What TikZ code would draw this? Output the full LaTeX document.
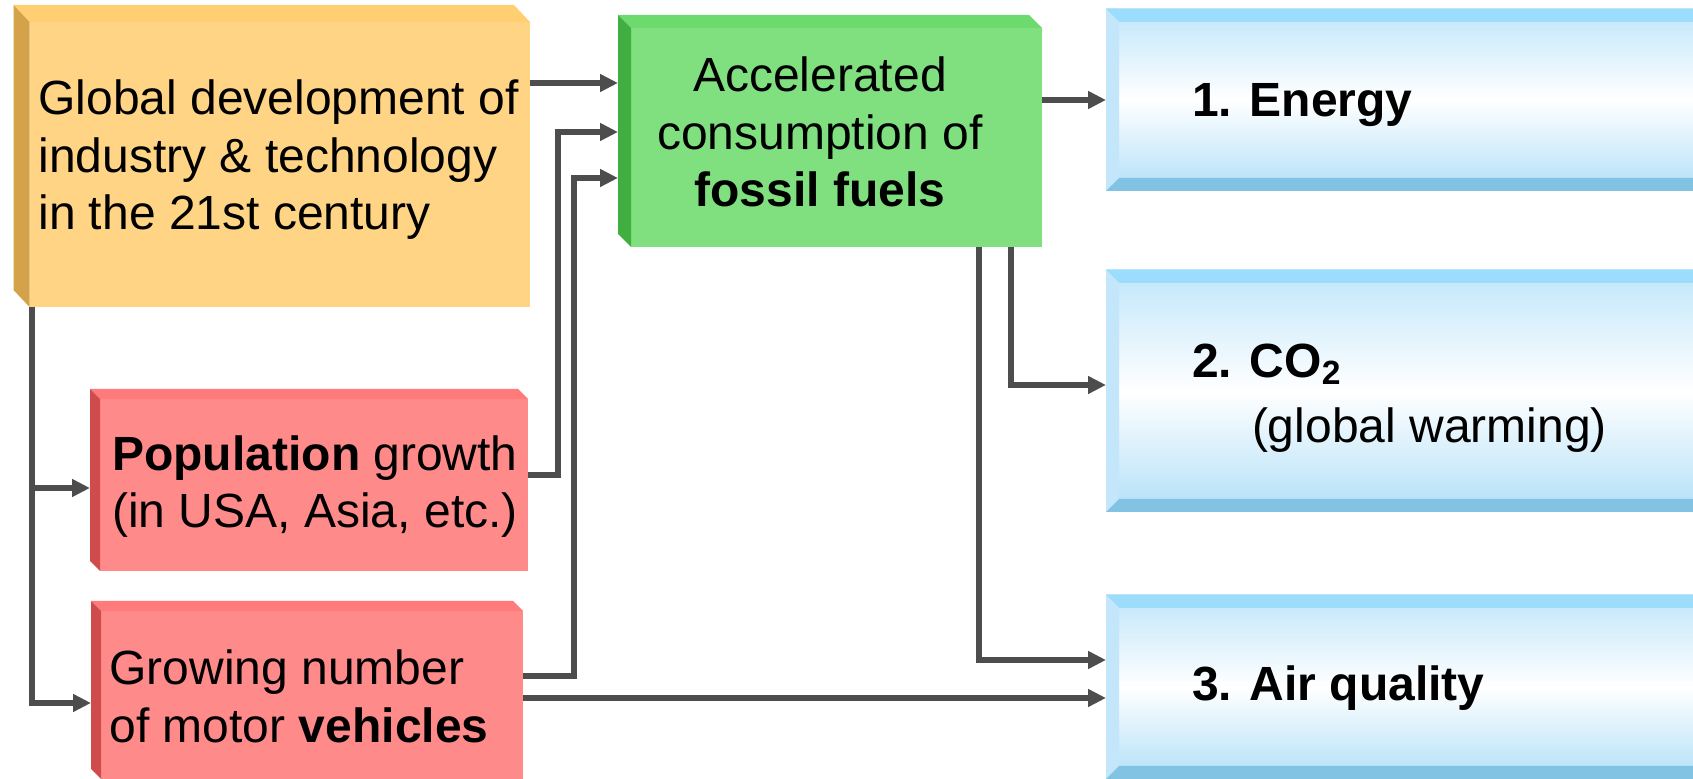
\documentclass[tikz,border=0pt]{standalone}
\usepackage{fontspec}
\setmainfont{Liberation Sans}
\usetikzlibrary{arrows.meta}
\definecolor{orangefront}{HTML}{FFD585}
\definecolor{orangetop}{HTML}{FFCF72}
\definecolor{orangeside}{HTML}{D4A248}
\definecolor{greenfront}{HTML}{80E080}
\definecolor{greentop}{HTML}{6CDA6C}
\definecolor{greenside}{HTML}{40AE40}
\definecolor{redfront}{HTML}{FF8A8A}
\definecolor{redtop}{HTML}{FF7A7A}
\definecolor{redside}{HTML}{D04C4C}
\definecolor{bluetop}{HTML}{9CDCFC}
\definecolor{blueleft}{HTML}{C4E6FA}
\definecolor{bluebottom}{HTML}{82C2E2}
\definecolor{blueright}{HTML}{8CCCEC}
\definecolor{bluehigh}{HTML}{C0E6FA}
\definecolor{bluelow}{HTML}{B2E0F8}
\definecolor{wiregray}{HTML}{4D4D4D}
\tikzset{
    every node/.style={
        text=black,
        inner sep=0pt,
        outer sep=0pt
    },
    every path/.style={
        thick
    }
}
\tikzstyle{cube}=[rectangle]
\tikzstyle{boxtext}=[font=\fontsize{24}{28.75}\selectfont]
\tikzstyle{link}=[draw=wiregray, line width=2.65pt, -{Triangle[length=9pt,width=8.5pt]}]
\tikzstyle{bevelbox}=[rectangle, top color=bluehigh, bottom color=bluelow, middle color=white, minimum width=300pt, path picture={\bevelfaces}]

\newcommand{\cubeback}[5]{%
  \fill[#4] ([shift={(-#2,#3)}]#1.north west) -- ([shift={(-#2,#3)}]#1.north east) -- (#1.north east) -- (#1.north west) -- cycle;
  \fill[#5] ([shift={(-#2,#3)}]#1.north west) -- (#1.north west) -- (#1.south west) -- ([shift={(-#2,#3)}]#1.south west) -- cycle;}

\newcommand{\bevelfaces}{%
  \coordinate (bnw) at (path picture bounding box.north west);
  \coordinate (bne) at (path picture bounding box.north east);
  \coordinate (bsw) at (path picture bounding box.south west);
  \coordinate (bse) at (path picture bounding box.south east);
  \fill[bluetop] (bnw) -- (bne) -- ([shift={(-6.5pt,-6.5pt)}]bne) -- ([shift={(6.5pt,-6.5pt)}]bnw) -- cycle;
  \fill[blueleft] (bnw) -- ([shift={(6.5pt,-6.5pt)}]bnw) -- ([shift={(6.5pt,6.5pt)}]bsw) -- (bsw) -- cycle;
  \fill[bluebottom] (bsw) -- ([shift={(6.5pt,6.5pt)}]bsw) -- ([shift={(-6.5pt,6.5pt)}]bse) -- (bse) -- cycle;
  \fill[blueright] (bne) -- (bse) -- ([shift={(-6.5pt,6.5pt)}]bse) -- ([shift={(-6.5pt,-6.5pt)}]bne) -- cycle;}

\begin{document}
\begin{tikzpicture}[x=0.5pt, y=-0.5pt]
\useasboundingbox (0,0) rectangle (1693,779);

\node[cube, fill=orangefront, minimum width=250.25pt, minimum height=142.5pt] (glob) at (279.75,164.5) {};
\cubeback{glob}{8pt}{8.5pt}{orangetop}{orangeside}
\node[cube, fill=greenfront, minimum width=205.5pt, minimum height=109.5pt] (fossil) at (836.5,137.5) {};
\cubeback{fossil}{6.5pt}{6.5pt}{greentop}{greenside}
\node[cube, fill=redfront, minimum width=214pt, minimum height=86pt] (pop) at (314,485) {};
\cubeback{pop}{5pt}{5pt}{redtop}{redside}
\node[cube, fill=redfront, minimum width=211pt, minimum height=84pt] (veh) at (312,695) {};
\cubeback{veh}{5pt}{5pt}{redtop}{redside}

\node[bevelbox, minimum height=91pt] (energy) at (1406,100) {};
\node[bevelbox, minimum height=121pt] (co2) at (1406,391) {};
\node[bevelbox, minimum height=92pt] (air) at (1406,687) {};

\node[boxtext, align=left] (globtxt) at (278.5,160) {Global development of\\industry \& technology\\in the 21st century};
\node[boxtext, align=center] (fossiltxt) at (820,132) {Accelerated\\consumption of\\\textbf{fossil fuels}};
\node[boxtext, align=center] (poptxt) at (315,486.5) {\textbf{Population} growth\\(in USA, Asia, etc.)};
\node[boxtext, align=left] (vehtxt) at (299,696.5) {Growing number\\of motor \textbf{vehicles}};
\node[boxtext, anchor=west] (energytxt) at (1192,105) {\textbf{1. Energy}};
\node[boxtext, anchor=west, align=left] (co2txt) at (1192,398) {\textbf{2. CO\textsubscript{2}}\\[3.5pt]\hspace*{30pt}(global warming)};
\node[boxtext, anchor=west] (airtxt) at (1192,688.5) {\textbf{3. Air quality}};

\coordinate (fin1) at ([xshift=-6.5pt,yshift=27.25pt]fossil.west);
\coordinate (fin2) at ([xshift=-6.5pt,yshift=2.75pt]fossil.west);
\coordinate (fin3) at ([xshift=-6.5pt,yshift=-20.25pt]fossil.west);
\coordinate (vout) at ([yshift=-1.5pt]veh.east);
\coordinate (gtrunk) at ([xshift=1.25pt]glob.south west);

\draw[link] (glob.east |- fin1) -- (fin1);
\draw[link] ([yshift=5pt]pop.east) -- ++(15pt,0) |- (fin2);
\draw[link] ([yshift=9.5pt]veh.east) -- ++(25.5pt,0) |- (fin3);
\draw[link] (vout) -- (vout -| air.west);
\draw[link] (gtrunk) |- ([xshift=-5pt,yshift=-1.5pt]pop.west);
\draw[link] (gtrunk) |- ([xshift=-5pt,yshift=-4pt]veh.west);

\draw[link] (fossil.east |- energy.west) -- (energy.west);
\draw[link] ([xshift=-15.5pt]fossil.south east) |- ([yshift=3pt]co2.west);
\draw[link] ([xshift=-31.5pt]fossil.south east) |- ([yshift=13.5pt]air.west);

\end{tikzpicture}
\end{document}
